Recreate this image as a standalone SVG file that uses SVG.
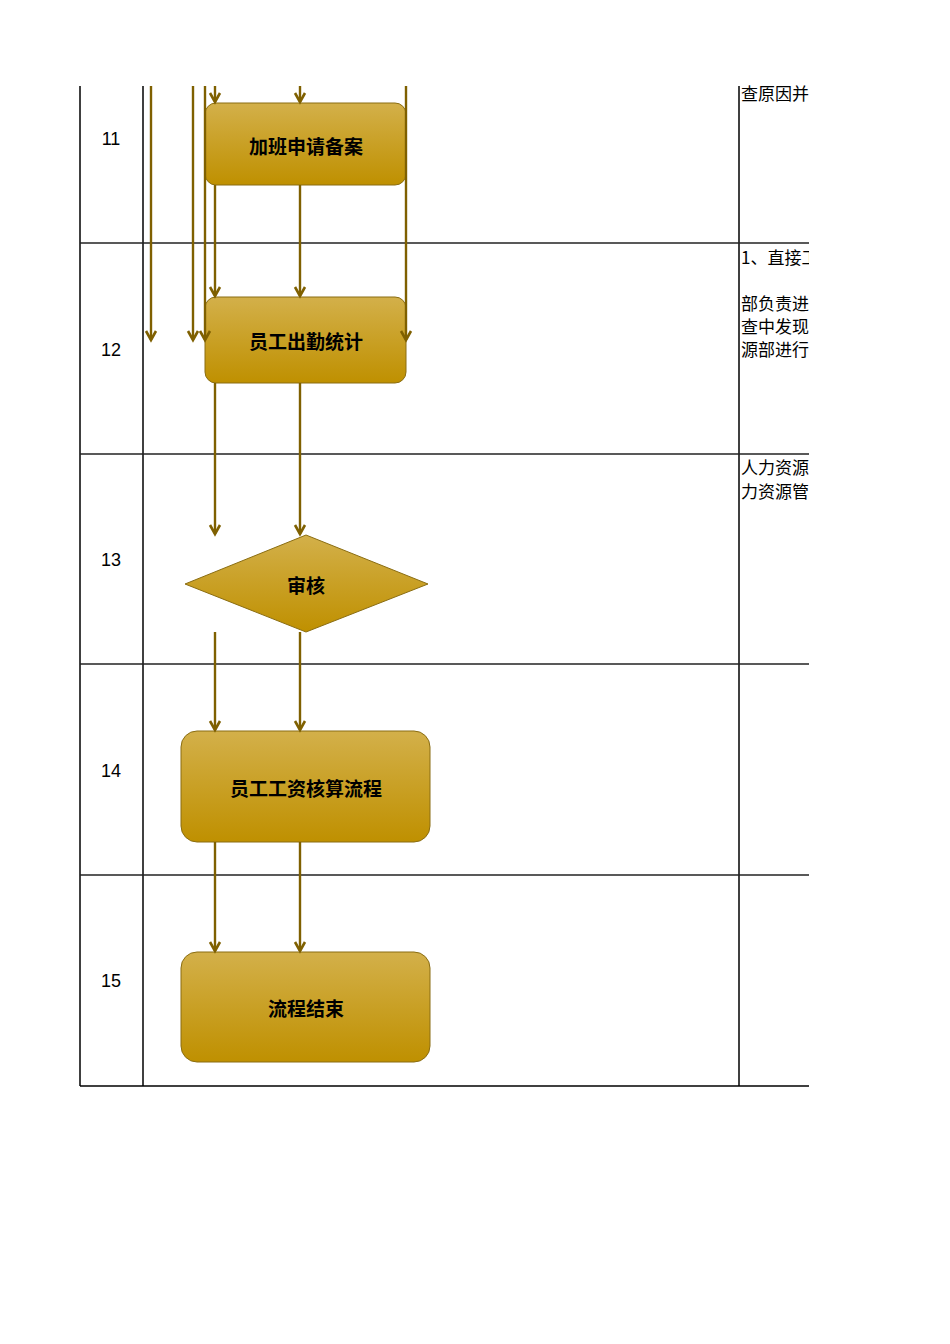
<svg xmlns="http://www.w3.org/2000/svg" width="950" height="1344" viewBox="0 0 950 1344">
<style>
.grid{stroke:#000;stroke-width:1.5;fill:none}
.hl{stroke:#222;stroke-width:1.4}
.num{font-family:"Liberation Sans","Noto Sans",sans-serif;font-size:18px;fill:#000;text-anchor:middle}
.note{font-family:"Noto Sans CJK SC","Noto Sans",sans-serif;font-size:17px;fill:#000}
.lbl{font-family:"Noto Sans CJK SC","Noto Sans",sans-serif;font-size:19px;font-weight:bold;fill:#000;text-anchor:middle;dominant-baseline:central}
.node{fill:url(#gold);stroke:#8a6d12;stroke-width:1}
.con{stroke:#7f6000;stroke-width:2.4;fill:none;marker-end:url(#arr)}
</style>
<defs>
<linearGradient id="gold" x1="0" y1="0" x2="0" y2="1">
<stop offset="0" stop-color="#d3b04a"/>
<stop offset="1" stop-color="#bf9000"/>
</linearGradient>
<marker id="arr" markerUnits="userSpaceOnUse" markerWidth="20" markerHeight="20" refX="0" refY="0" orient="auto" overflow="visible">
<path d="M-9,-5 L0,0 L-9,5" fill="none" stroke="#7f6000" stroke-width="2.6"/>
</marker>
<clipPath id="col"><rect x="739" y="80" width="70" height="1010"/></clipPath>
</defs>
<g id="table">
<line class="grid" x1="80" y1="86" x2="80" y2="1086"/>
<line class="grid" x1="143" y1="86" x2="143" y2="1086"/>
<line class="grid" x1="739" y1="86" x2="739" y2="1086"/>
<line class="hl" x1="80" y1="243" x2="809" y2="243"/>
<line class="hl" x1="80" y1="454" x2="809" y2="454"/>
<line class="hl" x1="80" y1="664" x2="809" y2="664"/>
<line class="hl" x1="80" y1="875" x2="809" y2="875"/>
<line class="grid" x1="80" y1="1086" x2="809" y2="1086" stroke-width="1.7"/>
<text class="num" x="111" y="145">11</text>
<text class="num" x="111" y="356">12</text>
<text class="num" x="111" y="566">13</text>
<text class="num" x="111" y="777">14</text>
<text class="num" x="111" y="987">15</text>
<g clip-path="url(#col)">
<text class="note" x="741" y="100">查原因并</text>
<text class="note" x="741" y="264">1、直接工</text>
<text class="note" x="741" y="310">部负责进</text>
<text class="note" x="741" y="333">查中发现</text>
<text class="note" x="741" y="356">源部进行</text>
<text class="note" x="741" y="474">人力资源</text>
<text class="note" x="741" y="498">力资源管</text>
</g>
</g>
<g id="n1"><rect class="node" x="205" y="103" width="201" height="82" rx="11"/><text class="lbl" x="306" y="145">加班申请备案</text></g>
<g id="n2"><rect class="node" x="205" y="297" width="201" height="86" rx="11"/><text class="lbl" x="306" y="340">员工出勤统计</text></g>
<g id="n3"><polygon class="node" points="306,535 428,584 306,632 185,584"/><text class="lbl" x="306" y="584">审核</text></g>
<g id="n4"><rect class="node" x="181" y="731" width="249" height="111" rx="16"/><text class="lbl" x="306" y="787">员工工资核算流程</text></g>
<g id="n5"><rect class="node" x="181" y="952" width="249" height="110" rx="16"/><text class="lbl" x="306" y="1007">流程结束</text></g>
<g id="connectors">
<line class="con" x1="151" y1="86" x2="151" y2="340"/>
<line class="con" x1="193" y1="86" x2="193" y2="340"/>
<line class="con" x1="205" y1="86" x2="205" y2="340"/>
<line class="con" x1="406" y1="86" x2="406" y2="340"/>
<line class="con" x1="215" y1="86" x2="215" y2="102"/>
<line class="con" x1="300" y1="86" x2="300" y2="102"/>
<line class="con" x1="215" y1="185" x2="215" y2="296"/>
<line class="con" x1="300" y1="185" x2="300" y2="296"/>
<line class="con" x1="215" y1="383" x2="215" y2="534"/>
<line class="con" x1="300" y1="383" x2="300" y2="534"/>
<line class="con" x1="215" y1="632" x2="215" y2="730"/>
<line class="con" x1="300" y1="632" x2="300" y2="730"/>
<line class="con" x1="215" y1="842" x2="215" y2="951"/>
<line class="con" x1="300" y1="842" x2="300" y2="951"/>
</g>
</svg>
